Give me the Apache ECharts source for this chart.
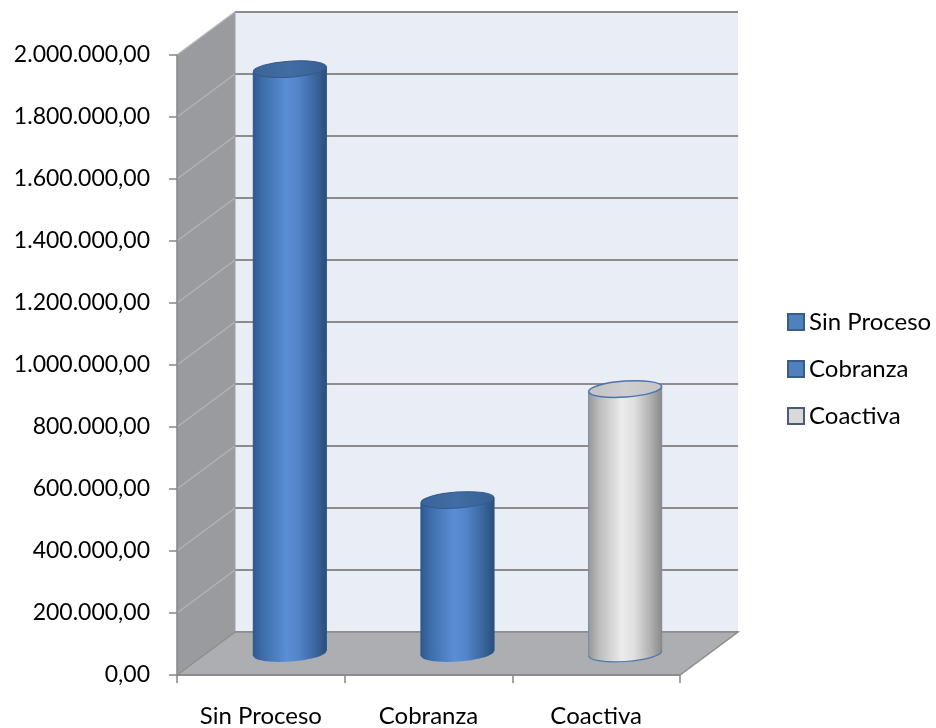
<!DOCTYPE html>
<html>
<head>
<meta charset="utf-8">
<style>
  html, body { margin: 0; padding: 0; background: #ffffff; }
  #chart { width: 936px; height: 728px; }
</style>
<script src="https://cdn.jsdelivr.net/npm/echarts@6/dist/echarts.min.js"></script>
</head>
<body>
<div id="chart"></div>
<script>
// ---- data ----
const categories = ['Sin Proceso', 'Cobranza', 'Coactiva'];
const values = [1885000, 495000, 853000];
const yTicks = [0, 200000, 400000, 600000, 800000, 1000000, 1200000, 1400000, 1600000, 1800000, 2000000];

// ---- styling constants ----
const DEPTH_X = 58, DEPTH_Y = -43;
const FONT = 'Lato, "Open Sans", sans-serif';
const seriesStyles = [
  { kind: 'blue' }, { kind: 'blue' }, { kind: 'gray' }
];

function fmt(v) {
  const parts = Number(v).toFixed(2).split('.');
  return parts[0].replace(/\B(?=(\d{3})+(?!\d))/g, '.') + ',' + parts[1];
}

function lin(stops) {
  return new echarts.graphic.LinearGradient(0, 0, 1, 0, stops.map(s => ({ offset: s[0], color: s[1] })));
}

const blueBody = () => lin([[0, '#2E5A92'], [0.12, '#3C6CA9'], [0.45, '#5A8ED5'], [0.62, '#5184C9'], [0.85, '#3A669E'], [1, '#2B4E7B']]);
const grayBody = () => lin([[0, '#989898'], [0.15, '#BDBDBD'], [0.45, '#EBEBEB'], [0.62, '#E0E0E0'], [0.85, '#AFAFAF'], [1, '#8A8A8A']]);

function renderWalls(params, api) {
  const cs = params.coordSys;
  const x0 = cs.x, x1 = cs.x + cs.width;
  const yb = api.coord([0, 0])[1];
  const ytop = api.coord([0, yTicks[yTicks.length - 1]])[1];
  const children = [];
  // back wall
  children.push({ type: 'rect', shape: { x: x0 + DEPTH_X, y: ytop + DEPTH_Y, width: x1 - x0, height: yb - ytop },
    style: { fill: '#E9EDF6' } });
  // side wall
  children.push({ type: 'polygon', shape: { points: [[x0, ytop], [x0 + DEPTH_X, ytop + DEPTH_Y], [x0 + DEPTH_X, yb + DEPTH_Y], [x0, yb]] },
    style: { fill: '#9A9B9F' } });
  // gridlines
  yTicks.forEach(t => {
    const y = api.coord([0, t])[1];
    children.push({ type: 'line', shape: { x1: x0, y1: y, x2: x0 + DEPTH_X, y2: y + DEPTH_Y },
      style: { stroke: '#B2B3B6', lineWidth: 1.5 } });
    children.push({ type: 'line', shape: { x1: x0 + DEPTH_X, y1: y + DEPTH_Y, x2: x1 + DEPTH_X, y2: y + DEPTH_Y },
      style: { stroke: '#8C8C8C', lineWidth: 2 } });
  });
  // back wall left edge
  children.push({ type: 'line', shape: { x1: x0 + DEPTH_X, y1: ytop + DEPTH_Y, x2: x0 + DEPTH_X, y2: yb + DEPTH_Y },
    style: { stroke: '#A0A1A4', lineWidth: 1 } });
  // floor
  children.push({ type: 'polygon', shape: { points: [[x0, yb], [x0 + DEPTH_X, yb + DEPTH_Y], [x1 + DEPTH_X, yb + DEPTH_Y], [x1, yb]] },
    style: { fill: '#ACAEB1', stroke: '#8C8C8C', lineWidth: 1.5 } });
  return { type: 'group', children: children };
}

function makeCylinderRenderer(kind) {
  return function (params, api) {
    const idx = api.value(0);
    const top = api.coord([idx, api.value(1)]);
    const base = api.coord([idx, 0]);
    const band = api.size([1, 0])[0];
    const cx = top[0] + DEPTH_X / 2;
    const cyTop = top[1] + DEPTH_Y / 2;
    const cyBot = base[1] + DEPTH_Y / 2;
    const rx = band * 0.218, ry = 8;
    const rot = 0.07;
    const s = rx * Math.sin(rot);
    const isGray = kind === 'gray';
    const bodyFill = isGray ? grayBody() : blueBody();
    const outline = isGray ? '#4F76A8' : 'rgba(0,0,0,0)';
    const children = [
      { type: 'ellipse', shape: { cx: 0, cy: 0, rx: rx, ry: ry }, x: cx, y: cyBot, rotation: rot,
        style: { fill: bodyFill, stroke: outline, lineWidth: isGray ? 1.2 : 0 } },
      { type: 'polygon', shape: { points: [[cx - rx, cyTop + s], [cx + rx, cyTop - s], [cx + rx, cyBot - s], [cx - rx, cyBot + s]] },
        style: { fill: bodyFill } },
      { type: 'line', shape: { x1: cx - rx, y1: cyTop + s, x2: cx - rx, y2: cyBot + s },
        style: { stroke: isGray ? '#7E8A99' : '#2E5585', lineWidth: 1 } },
      { type: 'line', shape: { x1: cx + rx, y1: cyTop - s, x2: cx + rx, y2: cyBot - s },
        style: { stroke: isGray ? '#7E8A99' : '#2E5585', lineWidth: 1 } },
      { type: 'ellipse', shape: { cx: 0, cy: 0, rx: rx, ry: ry }, x: cx, y: cyTop, rotation: rot,
        style: { fill: isGray ? lin([[0, '#C2C2C2'], [0.5, '#CFCFCF'], [1, '#C4C4C4']]) : lin([[0, '#3A6499'], [0.5, '#416DA4'], [1, '#385F93']]),
          stroke: isGray ? '#4A74AE' : '#35598A', lineWidth: isGray ? 1.5 : 1 } }
    ];
    return { type: 'group', children: children };
  };
}

const legendStyles = [
  { color: '#4F81BD', borderColor: '#385D8A' },
  { color: '#4F81BD', borderColor: '#385D8A' },
  { color: '#D9D9D9', borderColor: '#4A5A70' }
];

const series = [{
  type: 'custom',
  name: '__walls',
  renderItem: renderWalls,
  data: [[0, 0]],
  clip: false,
  silent: true,
  z: 1,
  encode: { x: 0, y: 1 }
}];
categories.forEach((c, i) => {
  series.push({
    type: 'custom',
    name: c,
    renderItem: makeCylinderRenderer(seriesStyles[i].kind),
    data: [[i, values[i]]],
    clip: false,
    z: 2,
    itemStyle: { color: legendStyles[i].color },
    encode: { x: 0, y: 1 }
  });
});

const chart = echarts.init(document.getElementById('chart'), null, { renderer: 'canvas' });
chart.setOption({
  animation: false,
  backgroundColor: '#ffffff',
  grid: { left: 177, right: 256, top: 55, bottom: 53 },
  legend: {
    orient: 'vertical',
    left: 787,
    top: 310,
    padding: 0,
    itemWidth: 16,
    itemHeight: 16,
    itemGap: 23,
    icon: 'rect',
    data: categories.map((c, i) => ({
      name: c,
      itemStyle: { color: legendStyles[i].color, borderColor: legendStyles[i].borderColor, borderWidth: 2 }
    })),
    textStyle: { fontFamily: FONT, fontSize: 24, color: '#000000' }
  },
  xAxis: {
    type: 'category',
    data: categories,
    boundaryGap: true,
    z: 3,
    axisLine: { lineStyle: { color: '#868686', width: 1.5 } },
    axisTick: { show: true, length: 8, lineStyle: { color: '#868686', width: 1.5 } },
    axisLabel: { fontFamily: FONT, fontSize: 24, color: '#000000', margin: 29 },
    splitLine: { show: false }
  },
  yAxis: {
    type: 'value',
    min: 0,
    max: 2000000,
    interval: 200000,
    z: 3,
    axisLine: { show: true, lineStyle: { color: '#868686', width: 1.5 } },
    axisTick: { show: true, length: 8, lineStyle: { color: '#868686', width: 1.5 } },
    axisLabel: { fontFamily: FONT, fontSize: 23, color: '#000000', margin: 27, formatter: fmt },
    splitLine: { show: false }
  },
  series: series
});
</script>
</body>
</html>
